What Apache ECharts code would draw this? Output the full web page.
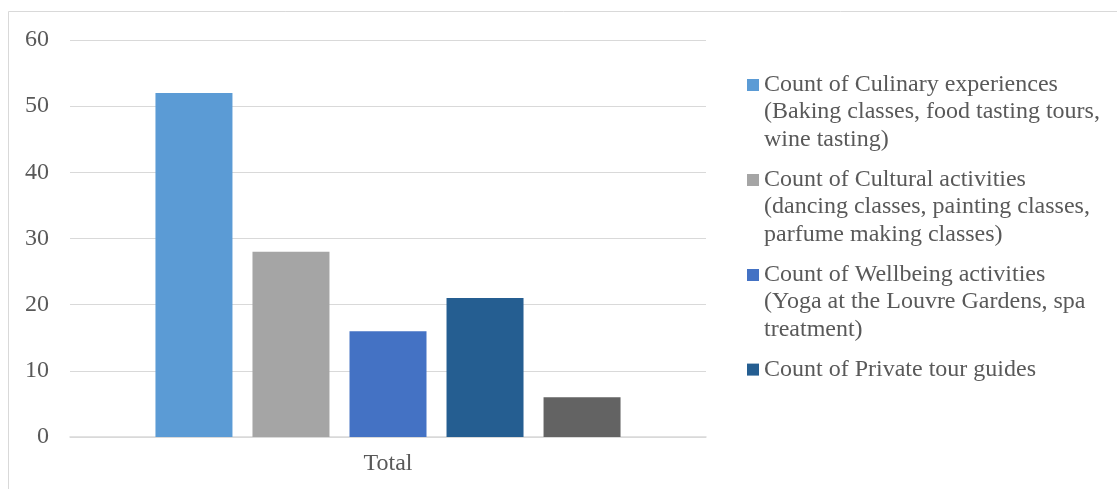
<!DOCTYPE html>
<html>
<head>
<meta charset="utf-8">
<script src="https://cdn.jsdelivr.net/npm/echarts@6/dist/echarts.min.js"></script>
<style>html,body{margin:0;padding:0;background:#fff}#c{width:1117px;height:489px}</style>
</head>
<body>
<div id="c"></div>
<script>
const categories = ['Total'];
const seriesNames = [
  'Count of Culinary experiences (Baking classes, food tasting tours, wine tasting)',
  'Count of Cultural activities (dancing classes, painting classes, parfume making classes)',
  'Count of Wellbeing activities (Yoga at the Louvre Gardens, spa treatment)',
  'Count of Private tour guides',
  'Count of Other services'
];
const legendLines = [
  ['Count of Culinary experiences', '(Baking classes, food tasting tours,', 'wine tasting)'],
  ['Count of Cultural activities', '(dancing classes, painting classes,', 'parfume making classes)'],
  ['Count of Wellbeing activities', '(Yoga at the Louvre Gardens, spa', 'treatment)'],
  ['Count of Private tour guides']
];
const values = [52, 28, 16, 21, 6];
const colors = ['#5B9BD5', '#A5A5A5', '#4472C4', '#255E91', '#636363'];
const yTicks = [0, 10, 20, 30, 40, 50, 60];

const FONT = '"Liberation Serif", "Times New Roman", serif';
const LH = 27.2;
const legendTops = [17, 112, 207, 356];

const chart = echarts.init(document.getElementById('c'), null, {renderer: 'canvas'});

const legends = legendLines.map((lines, i) => ({
  show: true,
  orient: 'vertical',
  left: 747,
  top: legendTops[i],
  padding: 0,
  itemWidth: 12,
  itemHeight: 12,
  icon: 'rect',
  data: [seriesNames[i]],
  selectedMode: false,
  formatter: () => (lines.length > 1 ? '\n'.repeat(lines.length - 1) : '') + lines.join('\n'),
  textStyle: {fontFamily: FONT, fontSize: 24, color: '#595959', lineHeight: LH}
}));

chart.setOption({
  animation: false,
  backgroundColor: '#fff',
  graphic: [{
    type: 'rect',
    shape: {x: 8.5, y: 11.5, width: 1130, height: 500},
    style: {fill: 'none', stroke: '#d9d9d9', lineWidth: 1},
    silent: true
  }],
  legend: legends,
  grid: {left: 70, right: 411, top: 40, bottom: 52},
  xAxis: {
    type: 'category',
    data: categories,
    axisTick: {show: false},
    axisLine: {lineStyle: {color: '#d9d9d9', width: 1.5}},
    axisLabel: {fontFamily: FONT, fontSize: 24, color: '#595959', margin: 15}
  },
  yAxis: {
    type: 'value',
    min: yTicks[0],
    max: yTicks[yTicks.length - 1],
    interval: 10,
    axisLine: {show: false},
    axisTick: {show: false},
    splitLine: {lineStyle: {color: '#d9d9d9', width: 1}},
    axisLabel: {fontFamily: FONT, fontSize: 24, color: '#595959', margin: 21}
  },
  series: seriesNames.map((name, i) => ({
    type: 'bar',
    name: name,
    data: [values[i]],
    barWidth: 77,
    barGap: '26%',
    itemStyle: {color: colors[i]}
  }))
});
</script>
</body>
</html>
